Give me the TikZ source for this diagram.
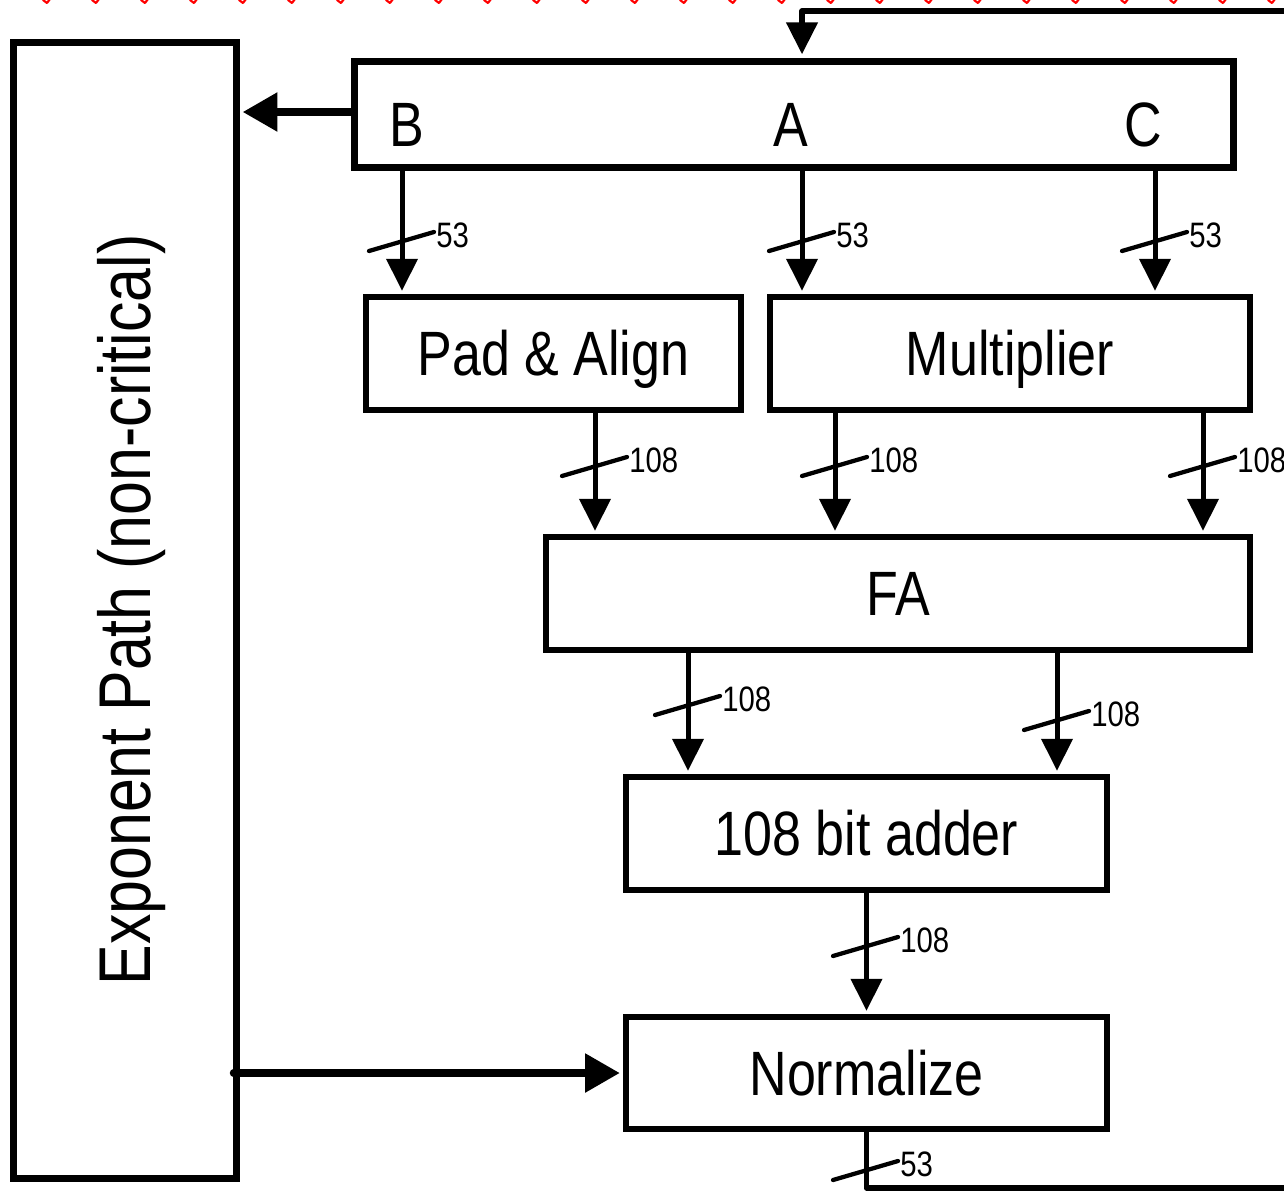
\documentclass[tikz,border=0pt]{standalone}
\usepackage{fontspec}
\setmainfont[FakeStretch=0.83]{Liberation Sans}
\usetikzlibrary{arrows.meta,fit}

\begin{document}
\begin{tikzpicture}[x=0.75pt,y=-0.75pt,
  blk/.style={draw, line width=4.5pt, inner sep=0pt},
  biglbl/.style={inner sep=0pt, font=\fontsize{47}{50}\selectfont, text height=33.6pt, text depth=0pt},
  conn/.style={line width=3.75pt, shorten >=2.4pt, -{Triangle[length=24pt,width=23pt]}},
  hconn/.style={line width=5.6pt, shorten >=2.4pt, -{Triangle[length=26pt,width=28pt]}},
  fb/.style={line width=4.2pt},
  bw/.style={line width=3.2pt, line cap=round},
  bwl/.style={font=\fontsize{26.5}{28}\selectfont, text height=19pt, text depth=0pt, inner sep=0pt, anchor=west},
]
\useasboundingbox (0,0) rectangle (1284,1193);
\clip (0,0) rectangle (1284,1193);

% red marks along the top edge
\foreach \k in {0,...,25}{
  \draw[red, line width=1.6pt, line cap=round, line join=round] ({47+49*\k-4},0) -- ({47+49*\k},3) -- ({47+49*\k+3},-1);
}

% blocks
\node[draw, line width=5.25pt, inner sep=0pt, fit={(13,42) (236,1178)}] (exp) {};
\node[rotate=90, inner sep=0pt, font=\fontsize{55}{60}\selectfont, text height=39.4pt, text depth=0pt] (exptext) at (exp.center) {Exponent Path (non-critical)};

\node[draw, line width=5.25pt, inner sep=0pt, fit={(354,61) (1233,167)}] (reg) {};
\node[biglbl] (lB) at (407,124) {B};
\node[biglbl] (lA) at (791,124) {A};
\node[biglbl] (lC) at (1143,124) {C};

\node[blk, fit={(366,297) (741,410)}] (pad) {};
\node[blk, fit={(770,297) (1250,410)}] (mul) {};
\node[blk, fit={(546,537) (1250,650)}] (fa) {};
\node[blk, fit={(626,777) (1107,890)}] (add) {};
\node[blk, fit={(626,1017) (1107,1129)}] (norm) {};
\node[biglbl] (tpad) at (pad.center) {Pad \& Align};
\node[biglbl] (tmul) at (mul.center) {Multiplier};
\node[biglbl] (tfa) at (fa.center) {FA};
\node[biglbl] (tadd) at (add.center) {108 bit adder};
\node[biglbl] (tnorm) at (norm.center) {Normalize};

% x positions of the buses
\coordinate (xB) at (402,241);
\coordinate (xA) at (802,241);
\coordinate (xC) at (1155,241);
\coordinate (xP) at (595,466);
\coordinate (xM1) at (835,466);
\coordinate (xM2) at (1203,466);
\coordinate (xF1) at (688,705);
\coordinate (xF2) at (1057,720);
\coordinate (xD) at (866,946);
\coordinate (xN) at (866,1170);
\coordinate (fb1) at (1292,1188);
\coordinate (fb2) at (1292,11);

% connectors
\draw[conn] (xB |- reg.south) -- (xB |- pad.north);
\draw[conn] (xA |- reg.south) -- (xA |- mul.north);
\draw[conn] (xC |- reg.south) -- (xC |- mul.north);
\draw[conn] (xP |- pad.south) -- (xP |- fa.north);
\draw[conn] (xM1 |- mul.south) -- (xM1 |- fa.north);
\draw[conn] (xM2 |- mul.south) -- (xM2 |- fa.north);
\draw[conn] (xF1 |- fa.south) -- (xF1 |- add.north);
\draw[conn] (xF2 |- fa.south) -- (xF2 |- add.north);
\draw[conn] (add.south) -- (norm.north);
\draw[hconn] (reg.west |- 0,112) -- (exp.east |- 0,112);
\draw[hconn, line cap=round] ([xshift=-4.5pt]exp.east |- norm.west) -- (norm.west);
\draw[fb, line join=round, -{Triangle[length=24pt,width=23pt]}, shorten >=2.4pt]
  (norm.south) -- (norm.south |- fb1) -- (fb1) -- (fb2) -- (xA |- fb2) -- (xA |- reg.north);

% bus width marks
\newcommand\busmark[3]{%
  \draw[bw] ([shift={(-33,10)}]#1) -- ([shift={(32,-9)}]#1);
  \node[bwl] (#3) at ([shift={(34,-6)}]#1) {#2};}
\busmark{xB}{53}{wB}
\busmark{xA}{53}{wA}
\busmark{xC}{53}{wC}
\busmark{xP}{108}{wP}
\busmark{xM1}{108}{wM1}
\busmark{xM2}{108}{wM2}
\busmark{xF1}{108}{wF1}
\busmark{xF2}{108}{wF2}
\busmark{xD}{108}{wD}
\busmark{xN}{53}{wN}
\end{tikzpicture}
\end{document}
